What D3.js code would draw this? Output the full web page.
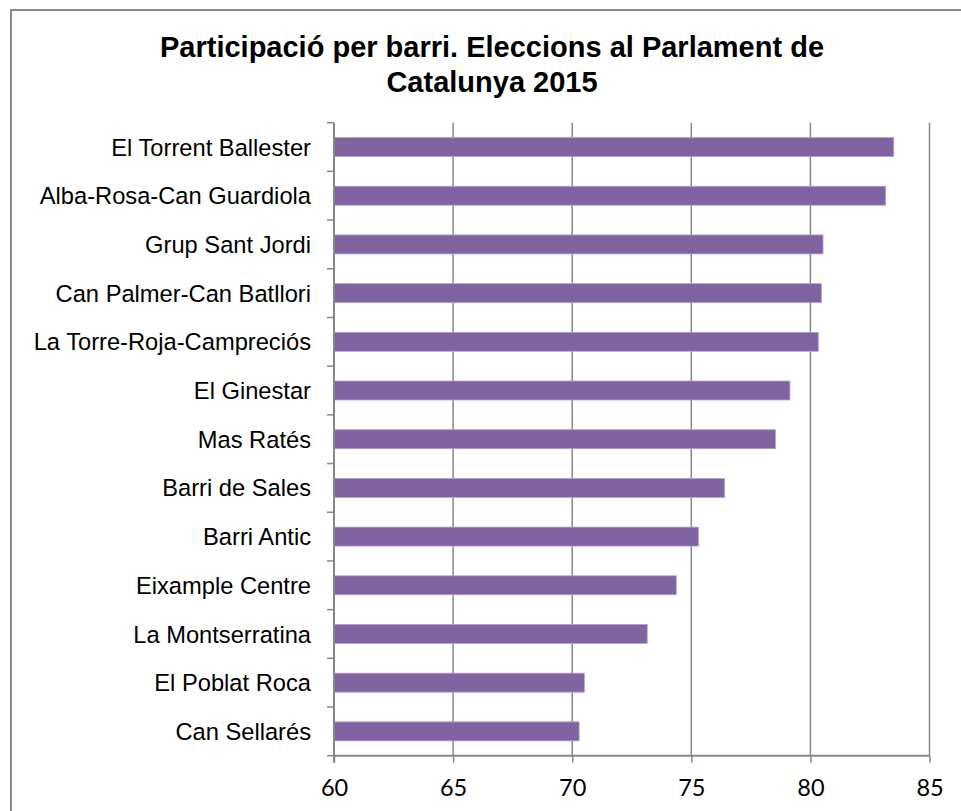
<!DOCTYPE html>
<html>
<head>
<meta charset="utf-8">
<script src="https://cdn.jsdelivr.net/npm/d3@7"></script>
<style>
  html, body { margin: 0; padding: 0; background: #fff; }
  svg { display: block; }
</style>
</head>
<body>
<script>
// ---- Data ----
const titleLines = ["Participació per barri. Eleccions al Parlament de", "Catalunya 2015"];
const categories = [
  "El Torrent Ballester",
  "Alba-Rosa-Can Guardiola",
  "Grup Sant Jordi",
  "Can Palmer-Can Batllori",
  "La Torre-Roja-Campreciós",
  "El Ginestar",
  "Mas Ratés",
  "Barri de Sales",
  "Barri Antic",
  "Eixample Centre",
  "La Montserratina",
  "El Poblat Roca",
  "Can Sellarés"
];
const values = [83.5, 83.16, 80.53, 80.46, 80.33, 79.14, 78.53, 76.4, 75.3, 74.37, 73.15, 70.51, 70.29];
const xTicks = [60, 65, 70, 75, 80, 85];

// ---- Layout ----
const W = 961, H = 811;
const plot = { left: 334, right: 929.5, top: 122.7, bottom: 755.7 };
const gridColor = "#878787";

const svg = d3.select("body").append("svg").attr("width", W).attr("height", H);

// frame
svg.append("rect")
  .attr("x", 11).attr("y", 10)
  .attr("width", W + 20).attr("height", H + 20)
  .attr("fill", "#fff")
  .attr("stroke", "#888").attr("stroke-width", 2);

// title
svg.append("g").selectAll("text")
  .data(titleLines).join("text")
  .attr("x", 492)
  .attr("y", (d, i) => 57 + i * 35)
  .attr("text-anchor", "middle")
  .attr("font-family", "'Liberation Sans', Arial, sans-serif")
  .attr("font-weight", "bold")
  .attr("font-size", "29px")
  .attr("fill", "#000")
  .text(d => d);

// scales
const x = d3.scaleLinear().domain([60, 85]).range([plot.left, plot.right]);
const y = d3.scaleBand().domain(categories)
  .range([plot.top, plot.bottom])
  .paddingInner(0.61).paddingOuter(0.305);

// gridlines
svg.append("g").selectAll("line")
  .data(xTicks.filter(t => t !== 60)).join("line")
  .attr("x1", d => x(d)).attr("x2", d => x(d))
  .attr("y1", plot.top).attr("y2", plot.bottom)
  .attr("stroke", gridColor).attr("stroke-width", 1.5);

// bars
svg.append("g").selectAll("rect")
  .data(categories).join("rect")
  .attr("x", x(60))
  .attr("y", d => y(d))
  .attr("width", (d, i) => x(values[i]) - x(60))
  .attr("height", y.bandwidth())
  .attr("fill", "#8064A2")
  .attr("stroke", "#b3a2cc")
  .attr("stroke-width", 0.8);

// x axis
const xAxis = svg.append("g")
  .attr("transform", `translate(0,${plot.bottom})`)
  .call(d3.axisBottom(x).tickValues(xTicks).tickSize(7).tickPadding(17).tickFormat(d3.format("d")));
xAxis.select(".domain").attr("stroke", gridColor).attr("stroke-width", 2).attr("d", `M${plot.left},0H${plot.right}`);
xAxis.selectAll(".tick line").attr("stroke", gridColor).attr("stroke-width", 1.5);
xAxis.selectAll(".tick text")
  .attr("font-family", "Lato, 'Open Sans', sans-serif")
  .attr("font-size", "23.5px")
  .attr("fill", "#000");

// y axis labels
const yAxis = svg.append("g")
  .attr("transform", `translate(${plot.left},0)`)
  .call(d3.axisLeft(y).tickSize(0).tickPadding(23));
yAxis.select(".domain").remove();
yAxis.selectAll(".tick text")
  .attr("font-family", "'Liberation Sans', Arial, sans-serif")
  .attr("font-size", "23.7px")
  .attr("dy", "0.36em")
  .attr("fill", "#000");

// y axis line and boundary ticks
const boundaries = d3.range(categories.length + 1).map(i => plot.top + i * y.step());
svg.append("line")
  .attr("x1", plot.left).attr("x2", plot.left)
  .attr("y1", plot.top).attr("y2", plot.bottom + 7)
  .attr("stroke", gridColor).attr("stroke-width", 2);
svg.append("g").selectAll("line")
  .data(boundaries).join("line")
  .attr("x1", plot.left - 7).attr("x2", plot.left)
  .attr("y1", d => d).attr("y2", d => d)
  .attr("stroke", gridColor).attr("stroke-width", 1.5);
</script>
</body>
</html>
